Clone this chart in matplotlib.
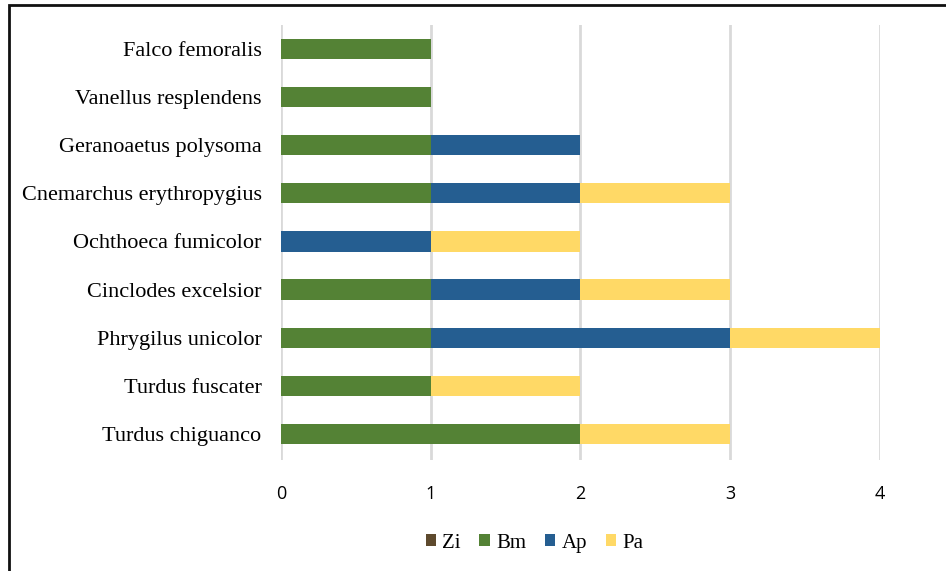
import matplotlib.pyplot as plt
import numpy as np
from matplotlib.patches import Rectangle

# species, bottom to top
species = [
    "Turdus chiguanco",
    "Turdus fuscater",
    "Phrygilus unicolor",
    "Cinclodes excelsior",
    "Ochthoeca fumicolor",
    "Cnemarchus erythropygius",
    "Geranoaetus polysoma",
    "Vanellus resplendens",
    "Falco femoralis",
]
zi = [0, 0, 0, 0, 0, 0, 0, 0, 0]
bm = [2, 1, 1, 1, 0, 1, 1, 1, 1]
ap = [0, 0, 2, 1, 1, 1, 1, 0, 0]
pa = [1, 1, 1, 1, 1, 1, 0, 0, 0]

series = [("Zi", zi, "#5e4a2e"), ("Bm", bm, "#548235"),
          ("Ap", ap, "#255e91"), ("Pa", pa, "#ffd966")]

fig = plt.figure(figsize=(9.46, 5.71), dpi=100)
ax = fig.add_axes([0.297, 0.194, 0.633, 0.762])

y = np.arange(len(species))
left = np.zeros(len(species))
for name, vals, col in series:
    vals = np.array(vals, dtype=float)
    ax.barh(y, vals, left=left, height=0.42, color=col, label=name, zorder=3)
    left += vals

ax.set_xlim(0, 4)
ax.set_ylim(-0.55, 8.5)
ax.set_xticks([0, 1, 2, 3, 4])
ax.set_yticks(y)
ax.set_yticklabels(species, family="Liberation Serif", fontsize=16)
ax.tick_params(axis="x", labelsize=13, pad=18, length=0)
ax.tick_params(axis="y", length=0, pad=14)
for lbl in ax.get_xticklabels():
    lbl.set_family("Open Sans")
ax.grid(axis="x", color="#d9d9d9", linewidth=2, zorder=0)
for s in ax.spines.values():
    s.set_visible(False)

fig.legend(loc="center", bbox_to_anchor=(0.565, 0.049), ncol=4, frameon=False,
           prop={"family": "Liberation Serif", "size": 15},
           handlelength=0.5, handleheight=0.5, handletextpad=0.3,
           columnspacing=0.9)

# outer frame around the chart
fig.patches.append(Rectangle((0.01, -0.1), 1.2, 1.091, transform=fig.transFigure,
                             fill=False, edgecolor="#111111", linewidth=2))

fig.savefig("out.png", dpi=100)
